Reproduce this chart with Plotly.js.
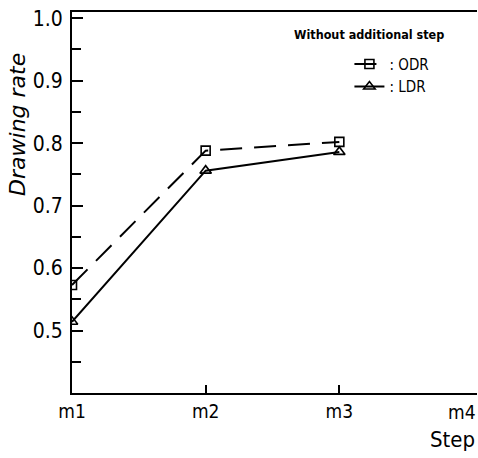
<!DOCTYPE html>
<html>
<head>
<meta charset="utf-8">
<script src="https://cdn.plot.ly/plotly-3.0.1.min.js"></script>
<style>html,body{margin:0;padding:0;background:#fff;}#chart{width:478px;height:458px;}</style>
</head>
<body>
<div id="chart"></div>
<script>
const steps = ["m1", "m2", "m3", "m4"];
const tickSteps = ["m1", "m2", "m3"];
const odrSteps = ["m1", "m2", "m3"];
const odrValues = [0.573, 0.788, 0.802];
const ldrSteps = ["m1", "m2", "m3"];
const ldrValues = [0.514, 0.756, 0.786];
const yTicks = [0.5, 0.6, 0.7, 0.8, 0.9, 1.0];
const yTickLabels = ["0.5", "0.6", "0.7", "0.8", "0.9", "1.0"];

const FONT = '"DejaVu Sans Condensed", "Liberation Sans Narrow", Arial, sans-serif';

const traces = [
  {
    x: odrSteps, y: odrValues, name: ": ODR", type: "scatter", mode: "lines+markers",
    line: {color: "#000", width: 2, dash: "22px,12px"},
    marker: {symbol: "square-open", size: 9, color: "#000", line: {width: 1.6}}
  },
  {
    x: ldrSteps, y: ldrValues, name: ": LDR", type: "scatter", mode: "lines+markers",
    line: {color: "#000", width: 2},
    marker: {symbol: "triangle-up-open", size: 10, color: "#000", line: {width: 1.6}}
  }
];

const layout = {
  width: 478, height: 458,
  margin: {l: 72, r: 1, t: 12, b: 65},
  paper_bgcolor: "#fff", plot_bgcolor: "#fff",
  font: {family: FONT, color: "#000", size: 16},
  showlegend: true,
  legend: {
    x: 0.685, y: 0.906, xanchor: "left", yanchor: "top",
    bgcolor: "rgba(0,0,0,0)",
    font: {family: FONT, size: 15, color: "#000"},
    itemwidth: 30, tracegroupgap: 0
  },
  xaxis: {
    type: "category", categoryorder: "array", categoryarray: steps,
    tickvals: tickSteps, ticktext: tickSteps,
    range: [0, 3.03],
    showgrid: false, zeroline: false,
    showline: true, linecolor: "#000", linewidth: 2, mirror: true,
    ticks: "inside", ticklen: 8, tickwidth: 2, tickcolor: "#000",
    tickfont: {family: FONT, size: 19}
  },
  yaxis: {
    range: [0.4, 1.01],
    tickvals: yTicks, ticktext: yTickLabels,
    showgrid: false, zeroline: false,
    showline: true, linecolor: "#000", linewidth: 2,
    ticks: "inside", ticklen: 11, tickwidth: 2, tickcolor: "#000",
    ticklabelstandoff: 3,
    minor: {dtick: 0.05, ticks: "inside", ticklen: 9, tickwidth: 2, tickcolor: "#000", showgrid: false},
    tickfont: {family: FONT, size: 21}
  },
  annotations: [
    {text: "<i>Drawing rate</i>", xref: "paper", yref: "paper", x: -0.133, y: 0.704,
     xanchor: "center", yanchor: "middle", textangle: -90, showarrow: false,
     font: {family: "DejaVu Sans, sans-serif", size: 22, color: "#000"}},
    {text: "Step", xref: "paper", yref: "paper", x: 1, y: -0.123, xanchor: "right", yanchor: "middle",
     showarrow: false, font: {family: FONT, size: 22, color: "#000"}},
    {text: "m4", xref: "x", yref: "paper", x: steps[3], y: 0, yanchor: "top", xanchor: "center",
     xshift: -11, yshift: -6, showarrow: false, font: {family: FONT, size: 19, color: "#000"}},
    {text: "<b>Without additional step</b>", xref: "paper", yref: "paper", x: 0.733, y: 0.94,
     xanchor: "center", yanchor: "middle", showarrow: false,
     font: {family: FONT, size: 12.5, color: "#000"}}
  ]
};

Plotly.newPlot("chart", traces, layout, {displayModeBar: false, staticPlot: true});
</script>
</body>
</html>
